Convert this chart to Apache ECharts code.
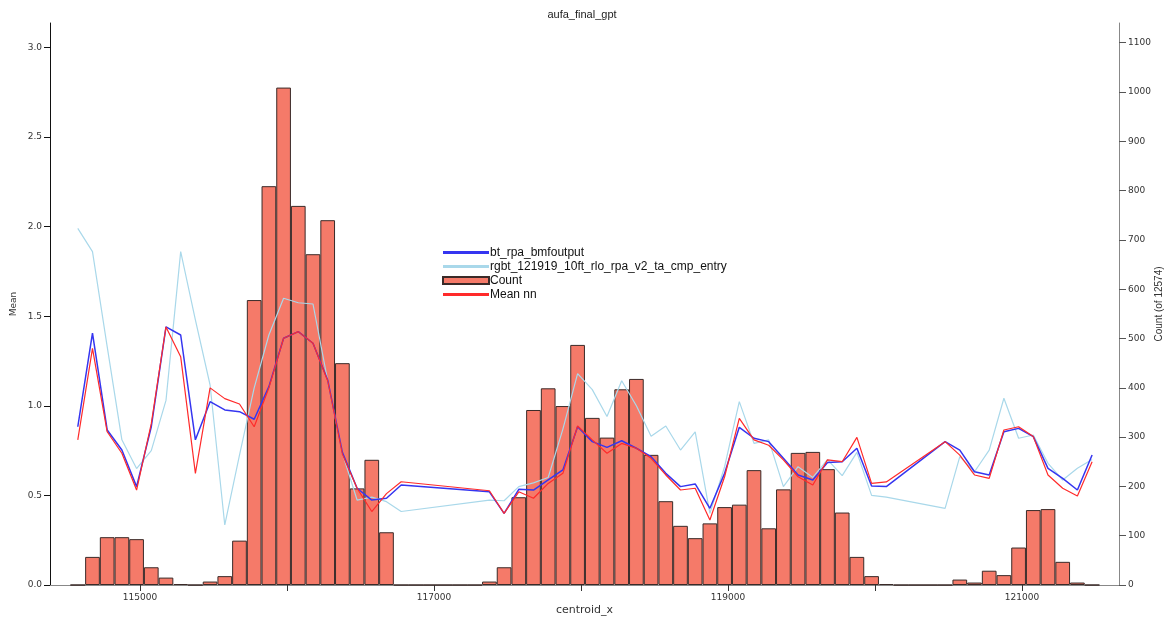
<!DOCTYPE html>
<html>
<head>
<meta charset="utf-8">
<script src="https://cdn.jsdelivr.net/npm/echarts@6/dist/echarts.min.js"></script>
<style>
html,body{margin:0;padding:0;background:#fff;}
#chart{width:1164px;height:619px;}
</style>
</head>
<body>
<div id="chart"></div>
<script>
// bin centers (centroid_x)
var binCenters = [114577,114677,114777,114877,114977,115077,115177,115277,115377,115477,
  115577,115677,115777,115877,115977,116077,116177,116277,116377,116477,
  116577,116677,116777,116877,116977,117077,117177,117277,117377,117477,
  117577,117677,117777,117877,117977,118077,118177,118277,118377,118477,
  118577,118677,118777,118877,118977,119077,119177,119277,119377,119477,
  119577,119677,119777,119877,119977,120077,120177,120277,120377,120477,
  120577,120677,120777,120877,120977,121077,121177,121277,121377,121477];
// histogram counts
var counts = [0,57,97,97,93,36,15,2,0,7,
  18,90,578,809,1009,769,671,740,450,196,
  254,107,0,0,0,0,0,0,7,36,
  178,355,399,363,487,339,299,397,418,264,
  170,120,95,125,158,163,233,115,194,268,
  270,235,147,57,18,2,0,0,0,0,
  11,5,29,20,76,152,154,47,5,0];
var btRpaBmfoutput = [0.883,1.405,0.865,0.753,0.549,0.883,1.44,1.395,0.81,1.023,
  0.977,0.967,0.925,1.107,1.377,1.414,1.349,1.144,0.74,0.54,
  0.474,0.484,0.558,null,null,null,null,null,0.52,0.40,
  0.534,0.53,0.586,0.642,0.883,0.80,0.768,0.805,0.763,0.716,
  0.623,0.549,0.564,0.428,0.623,0.88,0.819,0.80,0.707,0.614,
  0.586,0.683,0.688,0.763,0.552,0.549,null,null,null,0.80,
  0.753,0.632,0.614,0.855,0.874,0.828,0.651,0.595,0.53,0.725];
var rgbtEntry = [1.99,1.86,1.33,0.81,0.65,0.75,1.03,1.86,1.48,1.116,
  0.335,0.725,1.10,1.395,1.60,1.575,1.568,1.14,0.735,0.474,
  0.49,0.465,0.41,null,null,null,null,null,0.474,0.47,
  0.549,0.57,0.60,0.87,1.18,1.09,0.94,1.14,1.0,0.83,
  0.887,0.753,0.855,0.40,0.66,1.023,0.79,0.81,0.549,0.66,
  0.60,0.70,0.61,0.74,0.50,0.49,null,null,null,0.428,
  0.716,0.632,0.753,1.042,0.819,0.837,0.679,0.586,0.651,0.70];
var meanNN = [0.81,1.32,0.855,0.735,0.53,0.90,1.44,1.274,0.623,1.10,
  1.04,1.01,0.883,1.10,1.377,1.414,1.349,1.14,0.73,0.54,
  0.41,0.51,0.576,null,null,null,null,null,0.526,0.40,
  0.52,0.484,0.567,0.623,0.887,0.81,0.735,0.79,0.763,0.707,
  0.614,0.53,0.54,0.363,0.604,0.93,0.81,0.78,0.698,0.604,
  0.558,0.698,0.688,0.824,0.567,0.575,null,null,null,0.80,
  0.725,0.614,0.595,0.865,0.883,0.828,0.614,0.54,0.497,0.688];
var meanTicks = [0,0.5,1.0,1.5,2.0,2.5,3.0];
var countTicks = [0,100,200,300,400,500,600,700,800,900,1000,1100];
var xTicks = [115000,116000,117000,118000,119000,120000,121000];
var xLabels = [115000,117000,119000,121000];

function pairs(arr){
  var out=[];
  for(var i=0;i<binCenters.length;i++){ if(arr[i]!==null) out.push([binCenters[i],arr[i]]); }
  return out;
}

var lineIcon = 'path://M0,0L46,0L46,3L0,3Z';
var chart = echarts.init(document.getElementById('chart'));
var lblFont = {fontSize:9, color:'#333', fontFamily:'DejaVu Sans'};
chart.setOption({
  animation:false,
  backgroundColor:'#fff',
  title:{text:'aufa_final_gpt', left:'center', top:4,
    textStyle:{fontSize:11, fontWeight:'normal', color:'#222', fontFamily:'Liberation Sans'}},
  legend:{
    orient:'vertical', left:437, top:241, itemWidth:46, itemHeight:7, itemGap:1,
    symbolKeepAspect:true,
    textStyle:{fontSize:12, color:'#111', fontFamily:'Liberation Sans', lineHeight:13, padding:[0,0,0,-4]},
    data:[
      {name:'bt_rpa_bmfoutput', icon:lineIcon},
      {name:'rgbt_121919_10ft_rlo_rpa_v2_ta_cmp_entry', icon:lineIcon},
      {name:'Count', icon:'rect'},
      {name:'Mean nn', icon:lineIcon}
    ]
  },
  grid:{left:50, right:45, top:23, bottom:34, containLabel:false, outerBoundsMode:'none'},
  xAxis:{
    type:'value', min:114388, max:121660,
    name:'centroid_x', nameLocation:'middle', nameGap:20, nameMoveOverlap:false,
    nameTextStyle:{fontSize:11, color:'#333', fontFamily:'DejaVu Sans'},
    axisLine:{lineStyle:{color:'#888', width:1}},
    axisTick:{show:true, length:6, lineStyle:{color:'#333'}, customValues:xTicks},
    axisLabel:Object.assign({customValues:xLabels, margin:8, formatter:function(v){return String(v);}}, lblFont),
    splitLine:{show:false}
  },
  yAxis:[{
    type:'value', min:0, max:3.136, position:'left',
    name:'Mean', nameLocation:'middle', nameGap:32, nameRotate:90, nameMoveOverlap:false,
    nameTextStyle:{fontSize:9, color:'#333', fontFamily:'DejaVu Sans'},
    axisLine:{show:true, lineStyle:{color:'#111', width:1}},
    axisTick:{show:true, length:6, lineStyle:{color:'#111'}, customValues:meanTicks},
    axisLabel:Object.assign({customValues:meanTicks, margin:8, formatter:function(v){return v.toFixed(1);}}, lblFont),
    splitLine:{show:false}
  },{
    type:'value', min:0, max:1140, position:'right',
    name:'Count (of 12574)', nameLocation:'middle', nameGap:35, nameRotate:90, nameMoveOverlap:false,
    nameTextStyle:{fontSize:10, color:'#333', fontFamily:'Liberation Sans'},
    axisLine:{show:true, lineStyle:{color:'#888', width:1}},
    axisTick:{show:true, length:7, lineStyle:{color:'#555'}, customValues:countTicks},
    axisLabel:Object.assign({customValues:countTicks, margin:9, formatter:function(v){return String(v);}}, lblFont),
    splitLine:{show:false}
  }],
  series:[
    {name:'Count', type:'bar', yAxisIndex:1, barWidth:14.7, barGap:'-100%',
      data:binCenters.map(function(x,i){return [x,counts[i]];}),
      itemStyle:{color:'#f57a69', borderColor:'#3a2a28', borderWidth:1}},
    {name:'rgbt_121919_10ft_rlo_rpa_v2_ta_cmp_entry', type:'line', yAxisIndex:0, symbol:'none',
      data:pairs(rgbtEntry), lineStyle:{color:'#a9d8ea', width:1.2}, itemStyle:{color:'#a9d8ea'}},
    {name:'bt_rpa_bmfoutput', type:'line', yAxisIndex:0, symbol:'none',
      data:pairs(btRpaBmfoutput), lineStyle:{color:'#3535f0', width:1.5}, itemStyle:{color:'#3535f0'}},
    {name:'Mean nn', type:'line', yAxisIndex:0, symbol:'none',
      data:pairs(meanNN), lineStyle:{color:'#ff2a2a', width:1.2}, itemStyle:{color:'#ff2a2a'}}
  ]
});
</script>
</body>
</html>
